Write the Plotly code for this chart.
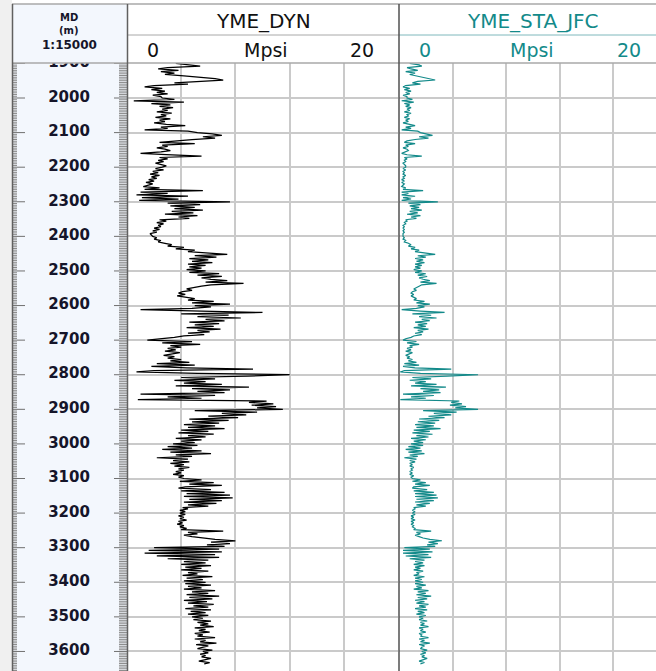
import numpy as np
import plotly.graph_objects as go

W, H = 656, 671

# ---------------- data ----------------
DEPTH_START = 1900   # m, sample spacing 4 m
DEPTH_STEP = 4

DYN_1900 = [3.6,4.8,5.4,3.0,2.3, 3.8,2.5,3.5,2.8,4.2, 5.5,6.5,7.1,5.0,3.5, 4.5,2.0,1.3,2.6,1.8, 2.8,2.2,3.0,1.9,2.5]
DYN_2000 = [2.6,3.5,0.5,4.2,1.8, 3.2,2.4,3.4,2.6,3.0, 2.2,3.3,2.5,2.9,2.1, 3.2,2.4,2.8,2.0,2.9, 4.3,2.5,3.0,1.3,4.5]
DYN_2100 = [5.2,6.3,7.0,5.6,6.5, 4.8,3.2,2.4,5.0,2.6, 3.0,2.2,2.8,3.2,2.5, 1.0,2.9,5.5,2.4,3.0, 2.3,2.7,2.1,2.5,2.9]
DYN_2200 = [2.6,2.1,2.7,1.9,2.3, 1.7,2.4,1.8,2.2,1.6, 2.0,1.4,1.9,1.5,1.2, 2.4,1.3,5.6,1.0,3.0, 0.7,4.5,1.1,3.8,0.9]
DYN_2300 = [7.6,3.0,5.4,3.2,5.0, 3.5,5.6,3.3,4.9,2.8, 5.2,3.8,4.6,2.4,2.9, 2.2,2.7,2.3,2.5,2.0, 2.4,1.9,2.2,1.7,1.8]
DYN_2400 = [1.9,2.2,2.0,2.5,2.3, 2.8,3.3,3.0,4.2,3.6, 5.0,4.5,6.2,7.4,5.0, 6.6,4.6,6.0,4.8,6.3, 4.5,5.8,4.6,5.5,4.4]
DYN_2500 = [5.8,4.6,6.8,5.2,7.0, 5.5,6.2,7.4,5.8,8.6, 6.2,5.5,5.0,4.4,4.8, 4.1,3.8,4.3,3.7,4.4, 5.0,4.5,6.4,4.8,7.6]
DYN_2600 = [5.0,6.2,4.8,1.0,5.5, 10.0,4.0,7.5,5.2,8.4, 5.8,7.2,4.6,6.8,5.0, 6.4,4.4,6.9,5.2,6.1, 4.5,5.7,4.2,3.5,2.4]
DYN_2700 = [1.5,4.8,2.6,5.4,3.2, 4.0,3.0,3.6,2.8,3.9, 3.3,2.7,3.5,3.0,4.0, 3.2,4.6,2.2,5.0,1.8, 4.4,9.3,2.0,0.7,5.2]
DYN_2800 = [12.0,8.9,4.0,6.5,3.5, 5.8,4.2,7.0,3.6,9.0, 4.8,7.6,5.2,7.2,1.0, 6.5,3.0,5.5,0.8,10.3, 9.0,10.8,9.2,11.0,9.6]
DYN_2900 = [11.5,5.0,9.6,7.0,8.8, 6.0,8.2,4.6,7.5,4.8, 6.8,4.2,6.5,4.5,7.2, 4.0,6.0,3.8,6.4,4.5, 5.8,3.6,5.5,4.0,5.0]
DYN_3000 = [3.4,5.2,3.0,4.8,2.6, 5.5,3.2,6.2,3.6,4.8, 2.2,4.5,3.4,4.6,3.2, 4.2,3.5,4.6,3.8,4.2, 3.6,4.0,3.4,4.2,3.8]
DYN_3100 = [4.2,5.5,3.9,6.4,4.6, 7.0,4.3,3.8,6.2,4.0, 7.2,4.4,7.6,4.2,7.8, 4.6,7.0,4.2,6.6,4.5, 6.0,4.1,4.5,3.9,4.3]
DYN_3200 = [3.9,4.3,3.8,4.2,3.9, 4.4,3.8,4.1,3.7,4.2, 3.9,4.4,4.0,7.1,4.5, 5.2,4.2,4.8,5.6,6.5, 8.0,6.2,7.6,5.9,7.2]
DYN_3300 = [2.0,6.8,1.6,7.0,1.3, 6.5,2.2,6.8,3.0,6.0, 4.2,5.8,4.0,6.2,4.3, 5.5,4.0,6.0,4.5,5.2, 4.1,6.3,4.4,5.6,4.2]
DYN_3400 = [5.8,4.3,6.2,4.5,5.5, 4.2,6.5,4.8,6.0,4.4, 6.8,4.6,6.3,4.2,5.9, 4.5,6.4,4.9,6.0,4.3, 6.2,4.7,5.8,4.5,6.0]
DYN_3500 = [4.8,5.6,4.9,6.2,5.2, 6.0,5.4,6.4,5.0,5.8, 5.3,6.1,5.0,5.6,5.2, 6.5,5.0,5.8,5.4,6.6, 5.1,6.0,5.5,5.2,6.3]
DYN_3600 = [5.6,6.0,5.4,5.8,5.5, 6.2,5.6,5.3,6.1,5.7]

STA_1900 = [0.8,1.5,1.7,0.6,0.9, 1.4,0.5,1.2,0.8,1.3, 1.8,2.2,2.7,1.4,1.0, 1.6,0.5,0.3,0.8,0.4, 0.9,0.5,0.8,0.3,0.6]
STA_2000 = [0.6,1.0,0.2,1.1,0.4, 0.8,0.5,0.9,0.6,0.8, 0.4,0.9,0.6,0.7,0.4, 0.8,0.5,0.7,0.3,0.7, 1.2,0.5,0.9,0.2,1.4]
STA_2100 = [1.6,2.0,2.5,1.5,2.2, 1.2,0.6,0.4,1.2,0.5, 0.7,0.3,0.6,0.7,0.4, 0.2,0.6,1.7,0.4,0.6, 0.4,0.5,0.3,0.4,0.5]
STA_2200 = [0.5,0.3,0.5,0.3,0.4, 0.3,0.5,0.3,0.4,0.2, 0.4,0.2,0.4,0.3,0.2, 0.5,0.3,1.8,0.2,0.7, 0.2,1.2,0.3,0.9,0.2]
STA_2300 = [2.9,0.7,1.6,0.8,1.5, 0.9,1.7,0.8,1.4,0.6, 1.6,0.9,1.3,0.5,0.6, 0.4,0.5,0.3,0.4,0.3, 0.4,0.3,0.4,0.3,0.3]
STA_2400 = [0.3,0.4,0.3,0.5,0.4, 0.7,0.9,0.7,1.2,0.9, 1.5,1.2,2.0,2.7,1.4, 2.0,1.2,1.8,1.3,1.9, 1.2,1.7,1.2,1.6,1.1]
STA_2500 = [1.7,1.2,2.0,1.4,2.1, 1.5,1.8,2.3,1.6,2.8, 1.7,1.5,1.3,1.1,1.3, 1.0,0.9,1.1,0.9,1.1, 1.3,1.1,1.9,1.3,2.3]
STA_2600 = [1.4,1.9,1.3,0.2,1.6, 3.4,1.0,2.4,1.5,2.8, 1.7,2.3,1.2,2.1,1.4, 2.0,1.1,2.2,1.4,1.8, 1.2,1.7,1.1,0.9,0.5]
STA_2700 = [0.3,1.3,0.6,1.5,0.8, 1.0,0.6,0.9,0.5,1.0, 0.7,0.5,0.8,0.6,1.0, 0.7,1.3,0.4,1.5,0.3, 1.2,3.9,0.4,0.1,1.6]
STA_2800 = [5.9,3.6,1.0,2.4,0.8, 2.0,1.2,2.8,0.9,3.5, 1.6,3.0,1.8,3.1,0.3, 2.6,0.9,2.0,0.1,4.5, 3.9,4.7,3.8,5.0,4.2]
STA_2900 = [5.9,1.8,4.3,2.6,3.9, 2.2,3.4,1.5,3.0,1.4, 2.7,1.2,2.6,1.3,3.1, 1.1,2.3,1.0,2.5,1.3, 2.2,0.9,2.0,1.1,1.8]
STA_3000 = [0.9,1.8,0.7,1.6,0.5, 1.7,0.7,1.9,0.8,1.4, 0.4,1.3,0.8,1.2,0.8, 1.0,0.8,1.1,0.9,1.0, 0.8,1.0,0.8,1.1,0.9]
STA_3100 = [1.0,1.6,1.0,2.0,1.2, 2.3,1.1,1.0,2.1,1.1, 2.6,1.2,2.8,1.2,2.9, 1.3,2.6,1.2,2.3,1.3, 2.0,1.1,1.2,1.0,1.2]
STA_3200 = [1.0,1.2,0.9,1.1,0.9, 1.2,0.9,1.1,0.9,1.1, 1.0,1.2,1.1,2.4,1.3, 1.6,1.2,1.5,1.8,2.3, 3.2,2.2,2.9,2.1,2.7]
STA_3300 = [0.4,2.3,0.3,2.5,0.3, 2.2,0.5,2.4,0.8,1.9, 1.2,1.8,1.1,1.9,1.2, 1.6,1.1,1.8,1.3,1.5, 1.1,1.9,1.2,1.7,1.2]
STA_3400 = [1.8,1.2,2.0,1.3,1.7, 1.1,2.2,1.4,2.0,1.3, 2.4,1.4,2.1,1.2,1.9, 1.3,2.2,1.5,2.0,1.2, 2.1,1.4,1.9,1.3,2.0]
STA_3500 = [1.5,1.8,1.5,2.1,1.6, 1.9,1.6,2.2,1.5,1.8, 1.6,2.0,1.5,1.7,1.6, 2.2,1.5,1.9,1.6,2.3, 1.5,1.9,1.7,1.6,2.1]
STA_3600 = [1.7,2.0,1.6,1.9,1.7, 2.1,1.7,1.5,1.9,1.6]

YME_DYN = (DYN_1900 + DYN_2000 + DYN_2100 + DYN_2200 + DYN_2300 + DYN_2400 + DYN_2500 + DYN_2600
           + DYN_2700 + DYN_2800 + DYN_2900 + DYN_3000 + DYN_3100 + DYN_3200 + DYN_3300 + DYN_3400
           + DYN_3500 + DYN_3600)
YME_STA_JFC = (STA_1900 + STA_2000 + STA_2100 + STA_2200 + STA_2300 + STA_2400 + STA_2500 + STA_2600
               + STA_2700 + STA_2800 + STA_2900 + STA_3000 + STA_3100 + STA_3200 + STA_3300 + STA_3400
               + STA_3500 + STA_3600)
DEPTH = [DEPTH_START + DEPTH_STEP * i for i in range(len(YME_DYN))]

DEPTH_LABELS = [1900, 2000, 2100, 2200, 2300, 2400, 2500, 2600, 2700, 2800,
                2900, 3000, 3100, 3200, 3300, 3400, 3500, 3600]
TRACK_TITLES = ["YME_DYN", "YME_STA_JFC"]
SCALE_MIN, SCALE_MAX, UNIT = "0", "20", "Mpsi"

# ---------------- layout helpers ----------------
def px(x):
    return x / W

def py(y):
    return 1 - y / H

HEAD_TOP, HEAD_MID, HEAD_BOT = 4, 35, 63
DT_L, DT_R = 13, 127            # depth track
T1_L, T1_R = 127, 398           # track 1 (0..20)
T2_L, T2_R = 399, 667           # track 2 (0..20), clipped by window
Y_TOP, Y_BOT = 1898.8, 3656.5

TEAL = "#138A8A"
GRID = "#CACACA"

fig = go.Figure()

fig.add_trace(go.Scatter(x=YME_DYN, y=DEPTH, xaxis="x", yaxis="y", mode="lines",
                         line=dict(color="black", width=1.25), hoverinfo="skip"))
fig.add_trace(go.Scatter(x=YME_STA_JFC, y=DEPTH, xaxis="x2", yaxis="y2", mode="lines",
                         line=dict(color=TEAL, width=1.2), hoverinfo="skip"))

# depth-track tick marks (every 5 m, longer every 100 m)
tx_minor, ty_minor, tx_major, ty_major = [], [], [], []
for d in range(1895, 3661, 5):
    if d % 100 == 0:
        for a, b in ((0, 12), (101, 114)):
            tx_major += [a, b, None]; ty_major += [d, d, None]
    else:
        for a, b in ((0, 4), (106, 114)):
            tx_minor += [a, b, None]; ty_minor += [d, d, None]
fig.add_trace(go.Scatter(x=tx_minor, y=ty_minor, xaxis="x3", yaxis="y3", mode="lines",
                         line=dict(color="#8A8A8A", width=1), hoverinfo="skip"))
fig.add_trace(go.Scatter(x=tx_major, y=ty_major, xaxis="x3", yaxis="y3", mode="lines",
                         line=dict(color="#707070", width=1), hoverinfo="skip"))
fig.add_trace(go.Scatter(x=[56] * len(DEPTH_LABELS), y=DEPTH_LABELS, xaxis="x3", yaxis="y3",
                         mode="text", text=[str(v) for v in DEPTH_LABELS],
                         textfont=dict(family="DejaVu Sans", size=15, color="#15152A", weight="bold"),
                         cliponaxis=True, hoverinfo="skip"))

ydom = [0, py(HEAD_BOT)]
fig.update_layout(
    width=W, height=H, margin=dict(l=0, r=0, t=0, b=0),
    paper_bgcolor="white", plot_bgcolor="rgba(0,0,0,0)", showlegend=False,
    xaxis=dict(domain=[px(T1_L), px(T1_R)], range=[0, 20], tickvals=[4, 8, 12, 16],
               showgrid=True, gridcolor=GRID, gridwidth=1.5, showticklabels=False,
               ticks="", zeroline=False, showline=False, anchor="y", fixedrange=True),
    xaxis2=dict(domain=[px(T2_L), 1], range=[0, 20 * (W - T2_L) / (T2_R - T2_L)],
                tickvals=[4, 8, 12, 16], showgrid=True, gridcolor=GRID, gridwidth=1.5,
                showticklabels=False, ticks="", zeroline=False, showline=False, anchor="y2",
                fixedrange=True),
    xaxis3=dict(domain=[px(DT_L), px(DT_R)], range=[0, DT_R - DT_L], showgrid=False,
                showticklabels=False, ticks="", zeroline=False, showline=False, anchor="y3",
                fixedrange=True),
    yaxis=dict(domain=ydom, range=[Y_BOT, Y_TOP], tickvals=DEPTH_LABELS, showgrid=True,
               gridcolor=GRID, gridwidth=1.5, showticklabels=False, ticks="", zeroline=False,
               showline=False, anchor="x", fixedrange=True),
    yaxis2=dict(domain=ydom, matches="y", range=[Y_BOT, Y_TOP], tickvals=DEPTH_LABELS,
                showgrid=True, gridcolor=GRID, gridwidth=1.5, showticklabels=False, ticks="",
                zeroline=False, showline=False, anchor="x2", fixedrange=True),
    yaxis3=dict(domain=ydom, matches="y", range=[Y_BOT, Y_TOP], showgrid=False,
                showticklabels=False, ticks="", zeroline=False, showline=False, anchor="x3",
                fixedrange=True),
)

shapes = []
# left page strip
shapes.append(dict(type="rect", xref="paper", yref="paper", x0=0, x1=px(12), y0=0, y1=1,
                   fillcolor="#F0F0F0", line=dict(width=0), layer="below"))
# depth track background (header + body)
shapes.append(dict(type="rect", xref="paper", yref="paper", x0=px(12), x1=px(DT_R), y0=0,
                   y1=py(HEAD_TOP), fillcolor="#F3F7FD", line=dict(width=0), layer="below"))
# header frame lines
for y in (HEAD_TOP, HEAD_BOT):
    shapes.append(dict(type="line", xref="paper", yref="paper", x0=px(12), x1=1, y0=py(y), y1=py(y),
                       line=dict(color="#A8A8A8", width=1.5)))
shapes.append(dict(type="line", xref="paper", yref="paper", x0=px(T1_L), x1=px(T2_L), y0=py(HEAD_MID),
                   y1=py(HEAD_MID), line=dict(color="#A8A8A8", width=1)))
shapes.append(dict(type="line", xref="paper", yref="paper", x0=px(T2_L), x1=1, y0=py(HEAD_MID),
                   y1=py(HEAD_MID), line=dict(color="#7FB8BC", width=1)))
# vertical borders
shapes.append(dict(type="line", xref="paper", yref="paper", x0=px(12.5), x1=px(12.5), y0=0,
                   y1=py(HEAD_TOP), line=dict(color="#606060", width=1.5)))
shapes.append(dict(type="line", xref="paper", yref="paper", x0=px(T1_L + 0.5), x1=px(T1_L + 0.5),
                   y0=0, y1=py(HEAD_TOP), line=dict(color="#606060", width=1.5)))
shapes.append(dict(type="line", xref="paper", yref="paper", x0=px(T2_L), x1=px(T2_L), y0=0,
                   y1=py(HEAD_TOP), line=dict(color="#505050", width=1.5)))
fig.update_layout(shapes=shapes)

ann = []
def add_text(txt, x, y, size, color, bold=False, family="DejaVu Sans"):
    ann.append(dict(text=txt, x=px(x), y=py(y), xref="paper", yref="paper", showarrow=False,
                    xanchor="center", yanchor="middle",
                    font=dict(family=family, size=size, color=color,
                              weight="bold" if bold else "normal")))

add_text("MD", 69, 17.5, 10, "#15152A", bold=True)
add_text("(m)", 69, 30, 10, "#15152A", bold=True)
add_text("1:15000", 69, 45, 12, "#15152A", bold=True)

add_text(TRACK_TITLES[0], 263, 21, 20, "#111111")
add_text(SCALE_MIN, 153, 50, 19, "#111111")
add_text(UNIT, 266, 50, 19, "#111111")
add_text(SCALE_MAX, 362, 50, 19, "#111111")

add_text(TRACK_TITLES[1], 533, 21, 20, TEAL)
add_text(SCALE_MIN, 425, 50, 19, TEAL)
add_text(UNIT, 532, 50, 19, TEAL)
add_text(SCALE_MAX, 629, 50, 19, TEAL)
fig.update_layout(annotations=ann)

fig.write_html("out.html")
